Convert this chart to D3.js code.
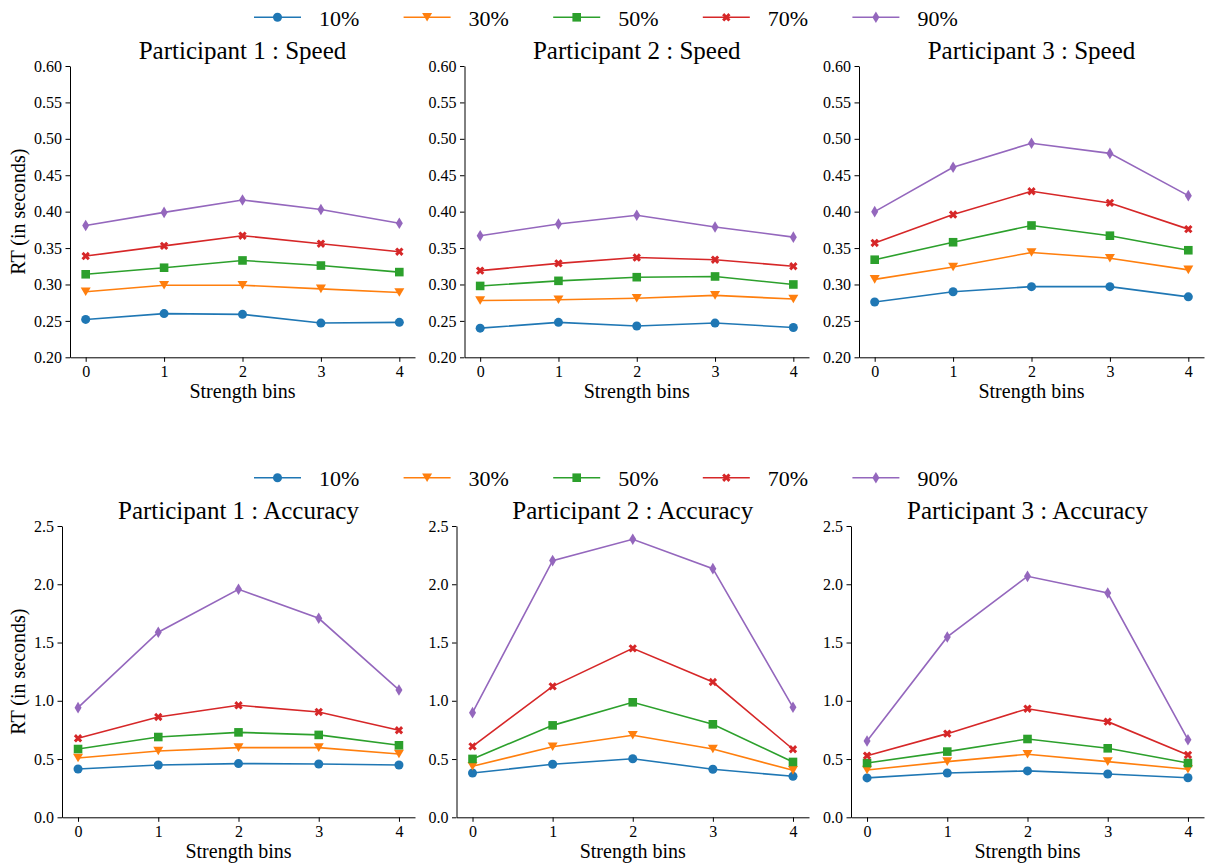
<!DOCTYPE html>
<html><head><meta charset="utf-8">
<script src="https://cdn.jsdelivr.net/npm/d3@7"></script>
<style>body{margin:0;background:#fff;} svg{display:block;} svg text{font-family:"Liberation Serif","Times New Roman",serif !important;fill:#000;}</style>
</head><body>
<svg id="c" width="1208" height="865" font-family="Liberation Serif, serif"></svg>
<script>
const bins = [0, 1, 2, 3, 4];
const seriesNames = ["10%", "30%", "50%", "70%", "90%"];
const colors = ["#1f77b4", "#ff7f0e", "#2ca02c", "#d62728", "#9467bd"];
const markers = ["circle", "triDown", "square", "x", "thinDiamond"];

const speedTicks = [0.20, 0.25, 0.30, 0.35, 0.40, 0.45, 0.50, 0.55, 0.60];
const accTicks = [0.0, 0.5, 1.0, 1.5, 2.0, 2.5];

const speedP1 = [
  [0.252, 0.260, 0.259, 0.247, 0.248],
  [0.290, 0.299, 0.299, 0.294, 0.289],
  [0.314, 0.323, 0.333, 0.326, 0.317],
  [0.339, 0.353, 0.367, 0.356, 0.345],
  [0.381, 0.399, 0.416, 0.403, 0.384]
];
const speedP2 = [
  [0.240, 0.248, 0.243, 0.247, 0.241],
  [0.278, 0.279, 0.281, 0.285, 0.280],
  [0.298, 0.305, 0.310, 0.311, 0.300],
  [0.319, 0.329, 0.337, 0.334, 0.325],
  [0.367, 0.383, 0.395, 0.379, 0.365]
];
const speedP3 = [
  [0.276, 0.290, 0.297, 0.297, 0.283],
  [0.307, 0.324, 0.344, 0.336, 0.320],
  [0.334, 0.358, 0.381, 0.367, 0.347],
  [0.357, 0.396, 0.428, 0.412, 0.376],
  [0.400, 0.461, 0.494, 0.480, 0.422]
];
const accP1 = [
  [0.415, 0.449, 0.461, 0.458, 0.449],
  [0.509, 0.569, 0.598, 0.598, 0.543],
  [0.586, 0.689, 0.729, 0.707, 0.618],
  [0.678, 0.861, 0.961, 0.904, 0.747],
  [0.941, 1.588, 1.957, 1.708, 1.093]
];
const accP2 = [
  [0.380, 0.455, 0.503, 0.412, 0.352],
  [0.438, 0.606, 0.704, 0.586, 0.403],
  [0.501, 0.789, 0.987, 0.798, 0.475],
  [0.609, 1.124, 1.450, 1.161, 0.584],
  [0.898, 2.203, 2.386, 2.134, 0.944]
];
const accP3 = [
  [0.338, 0.380, 0.398, 0.372, 0.340],
  [0.406, 0.478, 0.541, 0.478, 0.412],
  [0.466, 0.564, 0.672, 0.592, 0.466],
  [0.529, 0.718, 0.932, 0.821, 0.535],
  [0.655, 1.548, 2.068, 1.925, 0.666]
];

const titles = [
  "Participant 1 : Speed", "Participant 2 : Speed", "Participant 3 : Speed",
  "Participant 1 : Accuracy", "Participant 2 : Accuracy", "Participant 3 : Accuracy"
];

const FONT = "Liberation Serif, Times New Roman, serif";
const svg = d3.select("#c");

function markerPath(type) {
  switch (type) {
    case "circle": return d3.symbol(d3.symbolCircle, 64)();
    case "square": return "M-4.3,-4.3H4.3V4.3H-4.3Z";
    case "triDown": return "M-5,-4.3L5,-4.3L0,4.3Z";
    case "x": {
      const a = 4.2, t = 2.1;
      return `M${-a},${-a + t}L${-a + t},${-a}L0,${-t}L${a - t},${-a}L${a},${-a + t}L${t},0L${a},${a - t}L${a - t},${a}L0,${t}L${-a + t},${a}L${-a},${a - t}L${-t},0Z`;
    }
    case "thinDiamond": return "M0,-5.8L3.5,0L0,5.8L-3.5,0Z";
  }
}

function drawPanel(cfg) {
  const { left, right, top, bottom, domain, ticks, fmt, data, title, ylabel } = cfg;
  const x = d3.scaleLinear().domain([-0.2, 4.2]).range([left, right]);
  const y = d3.scaleLinear().domain(domain).range([bottom, top]);
  const g = svg.append("g");

  const xAxis = d3.axisBottom(x).tickValues(bins).tickFormat(d3.format("d")).tickSize(4.5).tickPadding(4).tickSizeOuter(0);
  const yAxis = d3.axisLeft(y).tickValues(ticks).tickFormat(fmt).tickSize(4.5).tickPadding(3.5).tickSizeOuter(0);
  const gx = g.append("g").attr("transform", `translate(0,${bottom})`).call(xAxis);
  const gy = g.append("g").attr("transform", `translate(${left},0)`).call(yAxis);
  [gx, gy].forEach(a => {
    a.attr("font-family", FONT).attr("font-size", 16);
    a.selectAll("text").attr("font-family", FONT).attr("font-size", 16);
    a.selectAll("path,line").attr("stroke", "#000").attr("stroke-width", 1);
  });

  const line = d3.line().x((d, i) => x(bins[i])).y(d => y(d));
  data.forEach((vals, si) => {
    g.append("path").attr("d", line(vals)).attr("fill", "none")
      .attr("stroke", colors[si]).attr("stroke-width", 1.6);
    g.selectAll(null).data(vals).enter().append("path")
      .attr("d", markerPath(markers[si]))
      .attr("transform", (d, i) => `translate(${x(bins[i])},${y(d)})`)
      .attr("fill", colors[si]);
  });

  g.append("text").attr("x", (left + right) / 2).attr("y", top - 7)
    .attr("text-anchor", "middle").attr("font-family", FONT).attr("font-size", 25).text(title);
  g.append("text").attr("x", (left + right) / 2).attr("y", bottom + 41)
    .attr("text-anchor", "middle").attr("font-family", FONT).attr("font-size", 20).text("Strength bins");
  if (ylabel) {
    g.append("text").attr("transform", `translate(25,${(top + bottom) / 2}) rotate(-90)`)
      .attr("text-anchor", "middle").attr("font-family", FONT).attr("font-size", 20).text("RT (in seconds)");
  }
}

function drawLegend(yc) {
  const startX = 254, step = 149.6;
  seriesNames.forEach((name, i) => {
    const x0 = startX + i * step;
    svg.append("line").attr("x1", x0).attr("x2", x0 + 47).attr("y1", yc).attr("y2", yc)
      .attr("stroke", colors[i]).attr("stroke-width", 1.6);
    svg.append("path").attr("d", markerPath(markers[i]))
      .attr("transform", `translate(${x0 + 23.5},${yc})`).attr("fill", colors[i]);
    svg.append("text").attr("x", x0 + 65).attr("y", yc + 8.5)
      .attr("font-family", FONT).attr("font-size", 22).text(name);
  });
}

const f2 = d3.format(".2f"), f1 = d3.format(".1f");
const topLefts = [70, 464.5, 859];
const botLefts = [62, 456.5, 851];
const rights = [415, 809, 1204];
const speedData = [speedP1, speedP2, speedP3];
const accData = [accP1, accP2, accP3];

for (let i = 0; i < 3; i++) {
  drawPanel({ left: topLefts[i], right: rights[i], top: 66, bottom: 357.3,
    domain: [0.2, 0.6], ticks: speedTicks, fmt: f2, data: speedData[i], title: titles[i], ylabel: i === 0 });
  drawPanel({ left: botLefts[i], right: rights[i], top: 526, bottom: 817.3,
    domain: [0, 2.5], ticks: accTicks, fmt: f1, data: accData[i], title: titles[3 + i], ylabel: i === 0 });
}
drawLegend(17.3);
drawLegend(477.7);
</script>
</body></html>
